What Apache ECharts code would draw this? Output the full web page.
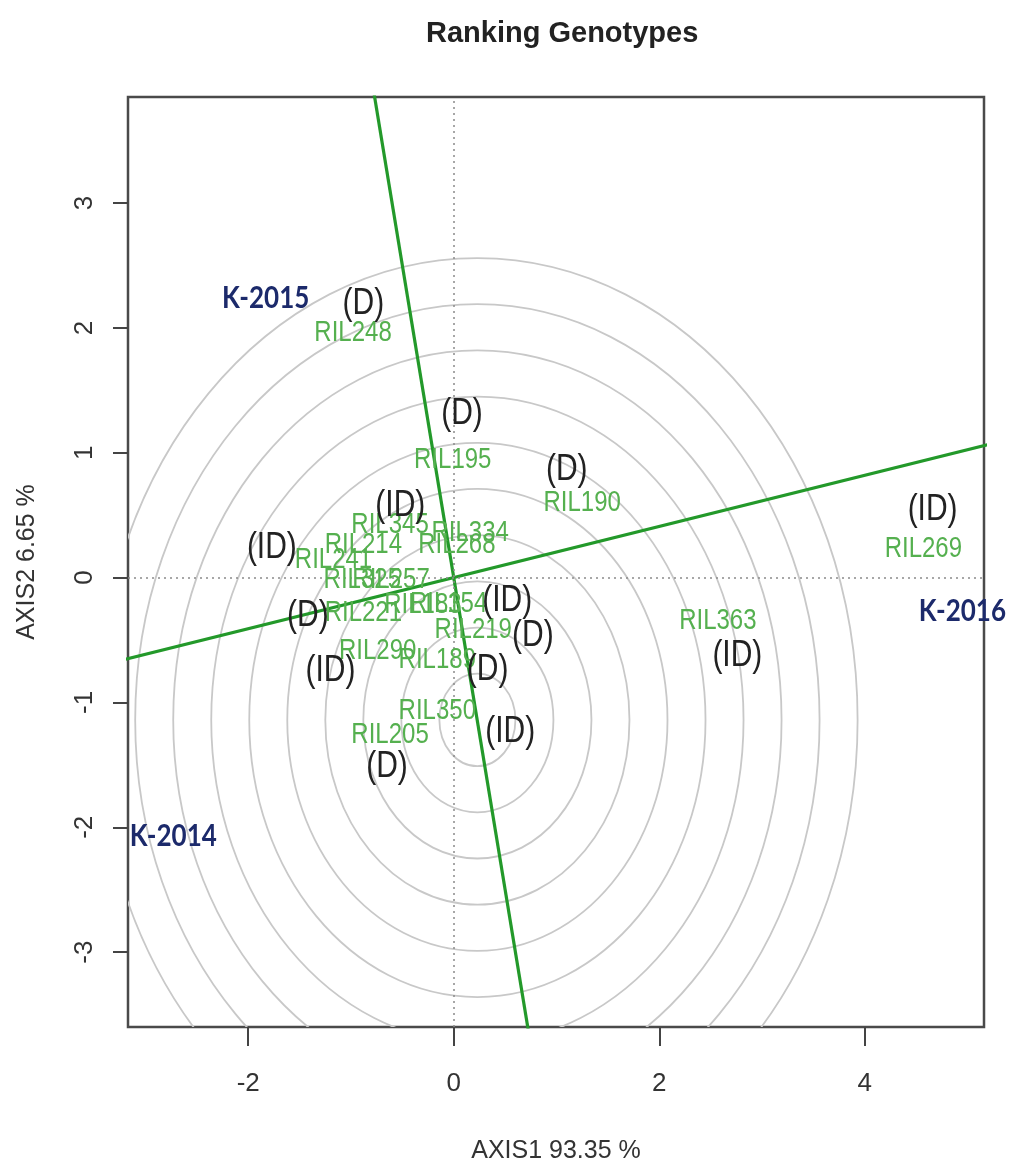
<!DOCTYPE html>
<html>
<head>
<meta charset="utf-8">
<script src="https://cdn.jsdelivr.net/npm/echarts@6/dist/echarts.min.js"></script>
<style>
html,body{margin:0;padding:0;background:#fff;}
#chart{width:1010px;height:1173px;}
</style>
</head>
<body>
<div id="chart"></div>
<script>
// ---- axis ranges and ticks ----
const xRange = [-3.17, 5.16];
const yRange = [-3.60, 3.85];
const xTicks = [-2, 0, 2, 4];
const yTicks = [-3, -2, -1, 0, 1, 2, 3];

// ---- environments (vector ends) ----
const envNames = ['K-2015', 'K-2016', 'K-2014'];
const envX = [-1.83, 4.95, -2.73];
const envY = [2.24, -0.27, -2.07];

// ---- genotypes ----
const genoNames = ['RIL248', 'RIL195', 'RIL190', 'RIL269', 'RIL363', 'RIL345', 'RIL334', 'RIL214', 'RIL268',
  'RIL241', 'RIL325', 'RIL257', 'RIL221', 'RIL183', 'RIL154', 'RIL219', 'RIL290', 'RIL189', 'RIL350', 'RIL205'];
const genoX = [-0.98, -0.01, 1.25, 4.57, 2.57, -0.62, 0.16, -0.88, 0.03,
  -1.17, -0.89, -0.61, -0.88, -0.30, -0.05, 0.19, -0.74, -0.16, -0.16, -0.62];
const genoY = [1.96, 0.94, 0.60, 0.23, -0.35, 0.42, 0.36, 0.26, 0.26,
  0.14, -0.02, -0.02, -0.28, -0.22, -0.21, -0.42, -0.59, -0.66, -1.07, -1.26];

// ---- (D) / (ID) tags ----
const tagNames = ['(D)', '(D)', '(D)', '(ID)', '(ID)', '(ID)', '(D)', '(ID)', '(D)', '(ID)', '(D)', '(ID)', '(ID)', '(D)'];
const tagX = [-0.88, 0.08, 1.10, 4.66, -0.52, -1.77, -1.42, 0.52, 0.77, -1.20, 0.33, 2.76, 0.55, -0.65];
const tagY = [2.19, 1.31, 0.86, 0.54, 0.57, 0.24, -0.31, -0.19, -0.47, -0.75, -0.74, -0.63, -1.24, -1.52];

// ---- AEC lines and concentric rings ----
const aecAbscissa = [[-3.5, -0.7175], [5.5, 1.1275]];
const aecOrdinate = [[-0.82, 4.1], [0.78, -3.9]];
const ringCenter = [0.23, -1.14];
const ringRadii = [0.37, 0.74, 1.11, 1.48, 1.85, 2.22, 2.59, 2.96, 3.33, 3.70];

const STRETCH = 1.2;

function zipXY(xs, ys) { return xs.map((x, i) => [x, ys[i]]); }

function labelSeries(names, xs, ys, style, z) {
  return {
    type: 'custom',
    coordinateSystem: 'cartesian2d',
    z: z,
    silent: true,
    data: zipXY(xs, ys),
    renderItem: function (params, api) {
      const p = api.coord([api.value(0), api.value(1)]);
      return {
        type: 'text',
        x: p[0], y: p[1],
        scaleY: STRETCH,
        style: Object.assign({
          text: names[params.dataIndex],
          align: 'center',
          verticalAlign: 'middle'
        }, style)
      };
    }
  };
}

const chart = echarts.init(document.getElementById('chart'), null, {renderer: 'canvas'});

const option = {
  backgroundColor: '#ffffff',
  animation: false,
  title: {
    text: 'Ranking Genotypes',
    left: 421,
    top: 14,
    textStyle: {fontFamily: 'Liberation Sans, Arial, sans-serif', fontWeight: 'bold', fontSize: 29, color: '#222'}
  },
  grid: {
    left: 128, right: 26, top: 97, bottom: 146,
    show: true, borderColor: '#4a4a4a', borderWidth: 2.5, backgroundColor: '#fff'
  },
  xAxis: {
    type: 'value', min: xRange[0], max: xRange[1],
    name: 'AXIS1 93.35 %', nameLocation: 'middle', nameGap: 112,
    nameTextStyle: {fontFamily: 'Liberation Sans, Arial, sans-serif', fontSize: 25, color: '#333'},
    axisLine: {show: false, onZero: false},
    splitLine: {show: false},
    axisTick: {show: true, inside: false, customValues: xTicks, length: 19, lineStyle: {color: '#444', width: 2}},
    axisLabel: {show: true, customValues: xTicks, margin: 44, fontSize: 26, color: '#333',
      fontFamily: 'Liberation Sans, Arial, sans-serif'}
  },
  yAxis: {
    type: 'value', min: yRange[0], max: yRange[1],
    name: 'AXIS2 6.65 %', nameLocation: 'middle', nameGap: 88, nameRotate: 90,
    nameTextStyle: {fontFamily: 'Liberation Sans, Arial, sans-serif', fontSize: 25, color: '#333'},
    axisLine: {show: false, onZero: false},
    splitLine: {show: false},
    axisTick: {show: true, inside: false, customValues: yTicks, length: 15, lineStyle: {color: '#444', width: 2}},
    axisLabel: {show: true, customValues: yTicks, rotate: 90, margin: 30, fontSize: 26, color: '#333',
      fontFamily: 'Liberation Sans, Arial, sans-serif'}
  },
  series: [
    {
      type: 'custom',
      coordinateSystem: 'cartesian2d',
      clip: true,
      silent: true,
      z: 1,
      data: ringRadii.map(r => [ringCenter[0], ringCenter[1], r]),
      renderItem: function (params, api) {
        const c = api.coord([api.value(0), api.value(1)]);
        const s = api.size([api.value(2), api.value(2)]);
        return {
          type: 'ellipse',
          shape: {cx: c[0], cy: c[1], rx: s[0], ry: s[1]},
          style: {fill: null, stroke: '#c8c8c8', lineWidth: 1.8}
        };
      }
    },
    {
      type: 'line', silent: true, z: 2, symbol: 'none', clip: true,
      data: [],
      markLine: {
        silent: true, symbol: 'none', label: {show: false},
        lineStyle: {type: [2, 4], color: '#8a8a8a', width: 1.5},
        data: [{xAxis: 0}, {yAxis: 0}]
      }
    },
    {
      type: 'line', silent: true, z: 3, symbol: 'none', clip: true,
      data: aecAbscissa,
      lineStyle: {color: '#23992a', width: 3.2}
    },
    {
      type: 'line', silent: true, z: 3, symbol: 'none', clip: true,
      data: aecOrdinate,
      lineStyle: {color: '#23992a', width: 3.2}
    },
    labelSeries(genoNames, genoX, genoY,
      {fill: '#55b04f', fontSize: 24, fontFamily: 'Liberation Sans, Arial, sans-serif'}, 5),
    labelSeries(tagNames, tagX, tagY,
      {fill: '#222222', fontSize: 30, fontFamily: 'Liberation Sans, Arial, sans-serif'}, 6),
    labelSeries(envNames, envX, envY,
      {fill: '#1c2a6b', fontSize: 26, fontWeight: 'bold', fontFamily: 'Lato, Open Sans, sans-serif'}, 7)
  ]
};

chart.setOption(option);
</script>
</body>
</html>
